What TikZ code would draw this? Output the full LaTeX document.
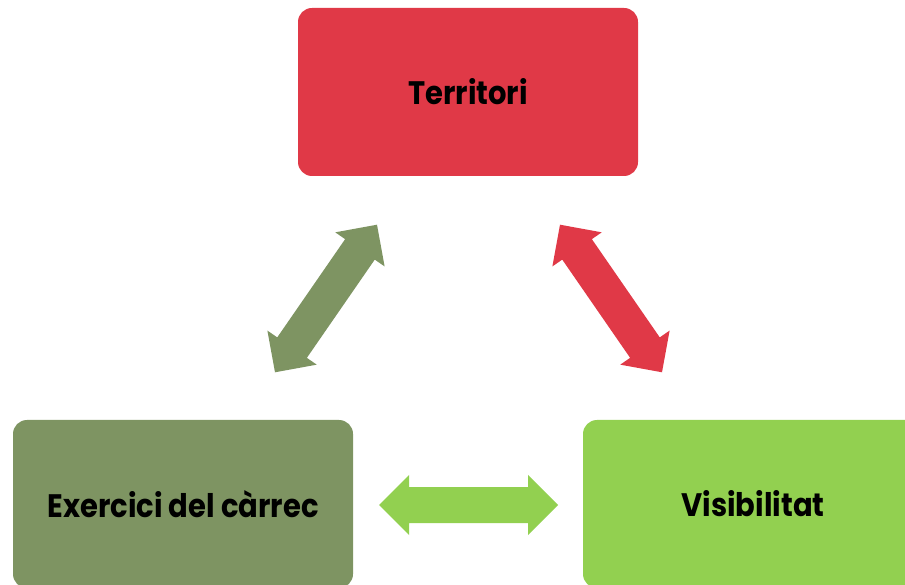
\documentclass[tikz,border=0pt]{standalone}
\usepackage{fontspec}
\setmainfont{Poppins}
\usetikzlibrary{calc}
\definecolor{cred}{RGB}{224,57,71}
\definecolor{colive}{RGB}{126,148,98}
\definecolor{cgreen}{RGB}{146,208,80}
\tikzset{
  box/.style={rounded corners=14pt, minimum width=340pt, minimum height=168pt, inner sep=0pt,
    font=\fontsize{29}{32}\selectfont\bfseries, text=black},
}
\newcommand{\tallify}[1]{\scalebox{1}[1.12]{#1}}
\newcommand{\blockarrow}[3]{%
  \fill[#1] let \p1=(#2), \p2=(#3), \n1={atan2(\y2-\y1,\x2-\x1)}, \n2={veclen(\x2-\x1,\y2-\y1)} in
    [shift={(\p1)}, rotate=\n1] (0,0) -- (30,30) -- (30,18) -- (\n2-30,18) -- (\n2-30,30) -- (\n2,0)
    -- (\n2-30,-30) -- (\n2-30,-18) -- (30,-18) -- (30,-30) -- cycle;
}
\begin{document}
\begin{tikzpicture}[x=1pt,y=1pt]
\useasboundingbox (0,0) rectangle (905,584);
\clip (0,0) rectangle (905,584);
\node[box, fill=cred] (ter) at (468,492) {\tallify{Territori}};
\node[box, fill=colive] (exe) at (183,80) {\tallify{Exercici del càrrec}};
\node[box, fill=cgreen] (vis) at (753,80) {\tallify{Visibilitat}};
\coordinate (a1) at (275,211.7);
\coordinate (a2) at (377,359.3);
\coordinate (b1) at (560,359.3);
\coordinate (b2) at (662,211.7);
\coordinate (c1) at (379,79);
\coordinate (c2) at (558,79);
\blockarrow{colive}{a1}{a2}
\blockarrow{cred}{b1}{b2}
\blockarrow{cgreen}{c1}{c2}
\end{tikzpicture}
\end{document}
